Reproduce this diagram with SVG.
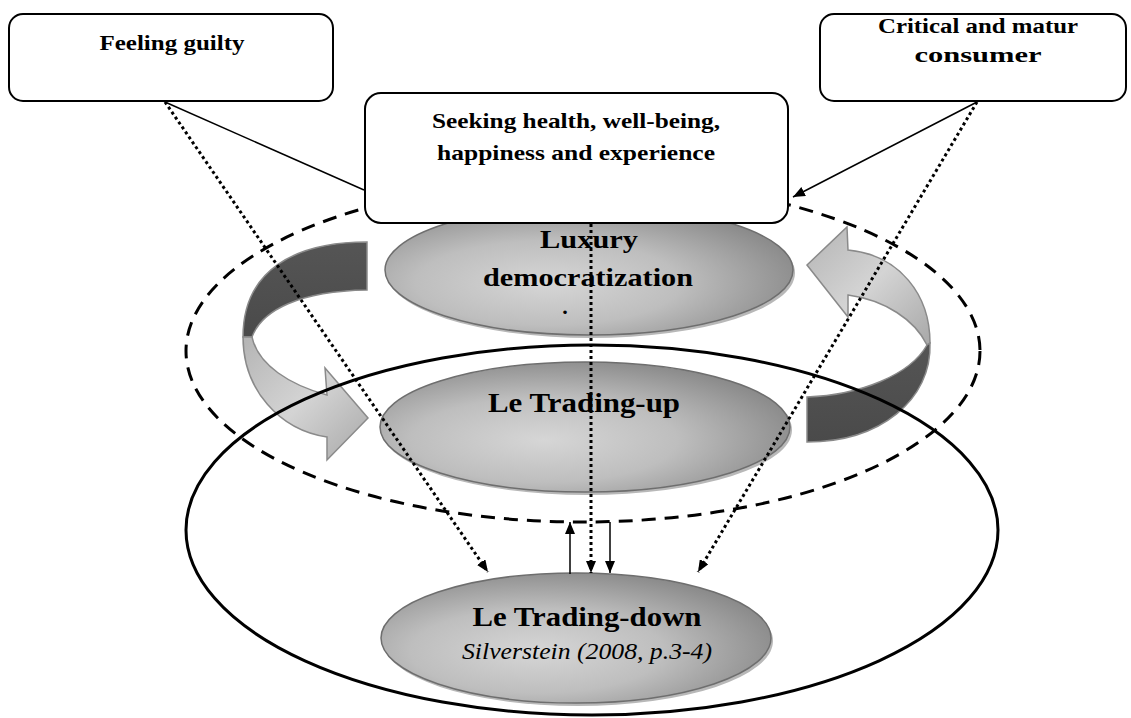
<svg xmlns="http://www.w3.org/2000/svg" width="1131" height="718" viewBox="0 0 1131 718">
<defs>
<style>
.box{fill:#fff;stroke:#000;stroke-width:2}
.bt{font-family:"Liberation Serif","Times New Roman",serif;font-weight:bold;fill:#000;text-anchor:middle}
.it{font-family:"Liberation Serif","Times New Roman",serif;font-style:italic;fill:#000;text-anchor:middle}
.ell{fill:url(#eg);stroke:#6e6e6e;stroke-width:1.5}
.shadow{fill:#b8b8b8}
.dot{fill:none;stroke:#000;stroke-width:3;stroke-dasharray:3 3}
.thin{fill:none;stroke:#000;stroke-width:1.5}
.dash{fill:none;stroke:#000;stroke-width:3;stroke-dasharray:14 9}
.solid{fill:none;stroke:#000;stroke-width:3}
.light{fill:url(#lg);stroke:#8a8a8a;stroke-width:1.5}
.dark{fill:url(#dg);stroke:#8a8a8a;stroke-width:1.5}
</style>
<radialGradient id="eg" cx="40%" cy="60%" r="65%">
<stop offset="0" stop-color="#d6d6d6"/>
<stop offset="0.5" stop-color="#bebebe"/>
<stop offset="1" stop-color="#888"/>
</radialGradient>
<linearGradient id="lg" x1="0" y1="0" x2="1" y2="1">
<stop offset="0" stop-color="#b4b4b4"/>
<stop offset="0.5" stop-color="#d4d4d4"/>
<stop offset="1" stop-color="#a8a8a8"/>
</linearGradient>
<linearGradient id="dg" x1="0" y1="0" x2="0" y2="1">
<stop offset="0" stop-color="#555"/>
<stop offset="1" stop-color="#4a4a4a"/>
</linearGradient>
<marker id="ah" viewBox="0 0 12 10" refX="12" refY="5" markerWidth="12" markerHeight="10" markerUnits="userSpaceOnUse" orient="auto">
<path d="M0,0 L12,5 L0,10 z" fill="#000"/>
</marker>
</defs>

<g id="dashed-ring">
<ellipse class="dash" cx="583" cy="351" rx="397" ry="171"/>
</g>

<g id="arrow-left">
<path class="dark" d="M367,242 C295,242 243,270 243,337 L252,337 C262,310 300,291 367,290 Z"/>
<path class="light" d="M243,337 C243,390 280,430 327,437 L327,460 L368,418 L325,368 L327,395 C290,385 258,365 252,337 Z"/>
</g>
<g id="arrow-right">
<path class="light" d="M807,265 L847,227 L848,250 C900,255 930,295 930,343 L927,345 C915,320 885,300 848,295 L848,317 Z"/>
<path class="dark" d="M930,343 C932,400 880,442 807,442 L807,397 C860,395 910,375 927,345 Z"/>
</g>

<g id="solid-ring">
<ellipse class="solid" cx="592" cy="530" rx="406" ry="185"/>
</g>

<g id="luxury">
<ellipse class="shadow" cx="591" cy="273" rx="204" ry="65"/>
<ellipse class="ell" cx="589" cy="270" rx="204" ry="65"/>
<text class="bt" x="589" y="248" font-size="26" textLength="98" lengthAdjust="spacingAndGlyphs">Luxury</text>
<text class="bt" x="588" y="286" font-size="26" textLength="210" lengthAdjust="spacingAndGlyphs">democratization</text>
<text class="bt" x="565" y="314" font-size="22">.</text>
</g>

<g id="trading-up">
<ellipse class="shadow" cx="587" cy="430" rx="205" ry="65"/>
<ellipse class="ell" cx="585" cy="427" rx="205" ry="65"/>
<text class="bt" x="584" y="412" font-size="27" textLength="192" lengthAdjust="spacingAndGlyphs">Le Trading-up</text>
</g>

<g id="trading-down">
<ellipse class="shadow" cx="578" cy="641" rx="195" ry="65"/>
<ellipse class="ell" cx="576" cy="638" rx="195" ry="65"/>
<text class="bt" x="587" y="626" font-size="27" textLength="229" lengthAdjust="spacingAndGlyphs">Le Trading-down</text>
<text class="it" x="587" y="659" font-size="23" textLength="250" lengthAdjust="spacingAndGlyphs">Silverstein (2008, p.3-4)</text>
</g>

<g id="feeling-guilty">
<rect class="box" x="9" y="14" width="324" height="87" rx="14"/>
<text class="bt" x="172" y="50" font-size="22" textLength="145" lengthAdjust="spacingAndGlyphs">Feeling guilty</text>
</g>

<g id="critical">
<rect class="box" x="820" y="14" width="306" height="87" rx="14"/>
<text class="bt" x="978" y="33" font-size="20" textLength="200" lengthAdjust="spacingAndGlyphs">Critical and matur</text>
<text class="bt" x="978" y="62" font-size="20" textLength="127" lengthAdjust="spacingAndGlyphs">consumer</text>
</g>

<g id="seeking">
<rect class="box" x="365" y="93" width="423" height="130" rx="16"/>
<text class="bt" x="576" y="128" font-size="21" textLength="288" lengthAdjust="spacingAndGlyphs">Seeking health, well-being,</text>
<text class="bt" x="576" y="160" font-size="21" textLength="278" lengthAdjust="spacingAndGlyphs">happiness and experience</text>
</g>

<g id="connectors">
<line class="thin" x1="165" y1="102" x2="364" y2="190"/>
<line class="thin" x1="977" y1="102" x2="793" y2="197" marker-end="url(#ah)"/>
<line class="dot" x1="165" y1="102" x2="488" y2="572" marker-end="url(#ah)"/>
<line class="dot" x1="977" y1="102" x2="698" y2="572" marker-end="url(#ah)"/>
<line class="dot" x1="591" y1="224" x2="591" y2="573" marker-end="url(#ah)"/>
<line class="thin" x1="570" y1="574" x2="570" y2="522" marker-end="url(#ah)"/>
<line class="thin" x1="610" y1="522" x2="610" y2="573" marker-end="url(#ah)"/>
</g>
</svg>
